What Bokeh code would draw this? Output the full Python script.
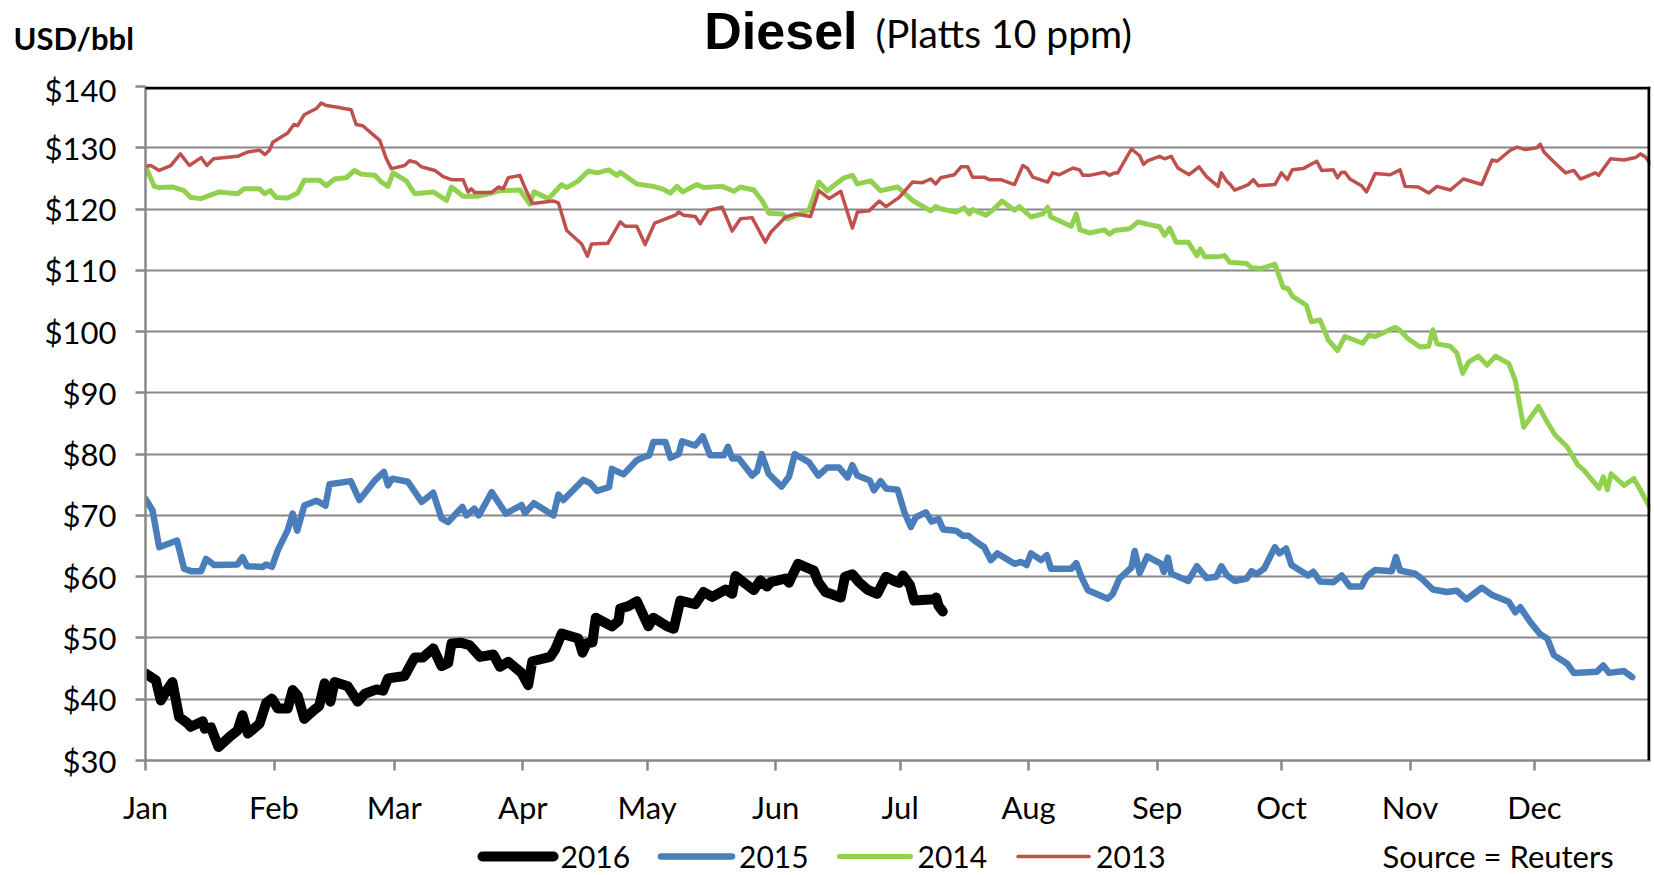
from bokeh.plotting import figure
from bokeh.layouts import column
from bokeh.models import (FixedTicker, NumeralTickFormatter, Label, Span, Range1d)
from bokeh.core.properties import value
from bokeh.embed import file_html
from bokeh.resources import INLINE

# ---------------- data (x = day of year, Jan 1 = 0, leap-year calendar) ----------------
month_days = [0, 31, 60, 91, 121, 152, 182, 213, 244, 274, 305, 335]
month_labels = ["Jan", "Feb", "Mar", "Apr", "May", "Jun", "Jul", "Aug", "Sep", "Oct", "Nov", "Dec"]
y_ticks = [30, 40, 50, 60, 70, 80, 90, 100, 110, 120, 130, 140]

days_2016 = [0, 2.5, 3.7, 4.9, 6.5, 8.1, 10.1, 10.9, 13.8, 14.3, 15.8, 17.6, 20.5, 22.2, 23.4,
             24.7, 27.5, 29.1, 30.5, 31.9, 34.3, 35.5, 36.7, 38.3, 40.6, 41.9, 43.2, 44.6, 45.6,
             48.8, 51.2, 52.9, 55.7, 57.3, 58.5, 62.5, 64.9, 66.9, 69.4, 71.4, 73.0, 73.8, 76.2,
             78.2, 80.7, 83.9, 85.5, 87.5, 90.7, 92.3, 93.3, 97.6, 98.8, 100.4, 104.4, 105.4,
             106.4, 107.8, 108.6, 112.5, 114.1, 114.5, 116.5, 118.5, 121.3, 122.5, 125.8, 127.4,
             129.0, 132.6, 134.6, 136.7, 139.9, 141.5, 142.3, 146.7, 148.3, 149.9, 150.8, 154.4,
             155.2, 156.0, 157.4, 161.2, 162.3, 164.0, 167.7, 168.7, 170.5, 172.1, 174.1, 176.5,
             178.6, 180.6, 181.8, 182.7, 184.4, 185.4, 190.2, 190.7, 191.3, 192.3]
usd_2016 = [44.2, 43.1, 39.8, 41.2, 42.8, 37.1, 36.1, 35.5, 36.4, 35.2, 35.4, 32.2, 34.0, 34.9, 37.4,
            34.4, 36.0, 39.4, 40.1, 38.5, 38.5, 41.5, 40.6, 36.8, 38.2, 38.9, 42.6, 39.6, 42.8,
            42.1, 39.6, 40.9, 41.6, 41.4, 43.4, 43.8, 46.8, 46.8, 48.3, 45.4, 45.9, 49.1, 49.2,
            48.8, 46.9, 47.3, 45.3, 46.1, 44.3, 42.3, 46.2, 46.9, 48.1, 50.7, 49.9, 47.6,
            49.1, 49.3, 53.3, 51.9, 52.8, 54.8, 55.2, 56.0, 51.9, 53.3, 51.9, 51.5,
            56.1, 55.5, 57.5, 56.7, 57.9, 57.2, 60.1, 57.8, 59.4, 58.4, 59.1, 59.7,
            59.0, 60.2, 62.1, 61.0, 59.1, 57.5, 56.6, 60.0, 60.4, 59.1, 57.9, 57.2,
            60.0, 59.3, 59.0, 60.2, 58.6, 56.1, 56.3, 56.6, 55.2, 54.3]

days_2015 = [0, 1.7, 3.3, 7.6, 9.3, 11.0, 13.4, 14.6, 16.6, 22.2, 23.4, 24.5, 28.3, 29.1, 30.5,
             31.9, 34.3, 35.5, 36.6, 38.3, 41.2, 43.4, 44.4, 49.5, 51.6, 55.3, 57.5, 58.5, 59.5,
             63.3, 66.6, 69.4, 71.4, 73.0, 76.4, 77.4, 79.3, 80.4, 83.5, 86.9, 90.7, 91.5, 93.7,
             98.4, 99.6, 100.8, 105.6, 107.2, 108.9, 111.8, 112.5, 113.7, 115.3, 118.5, 120.5,
             121.5, 122.5, 125.4, 126.6, 128.6, 129.4, 132.6, 134.4, 136.2, 139.5, 140.5, 141.5,
             143.1, 146.3, 147.5, 148.6, 150.3, 153.4, 155.2, 156.6, 160.0, 162.3, 164.4, 167.3,
             169.3, 170.5, 171.7, 174.7, 175.7, 177.3, 178.6, 181.4, 183.0, 184.6, 185.8, 188.2,
             189.6, 191.3, 192.4, 195.5, 197.1, 198.5, 199.9, 202.3, 203.9, 205.5, 209.6, 211.2,
             212.5, 213.6, 216.0, 217.4, 218.4, 223.3, 224.5, 225.7, 227.3, 232.1, 233.3, 234.9,
             237.8, 238.6, 239.8, 241.6, 245.0, 245.6, 246.6, 247.4, 251.5, 253.6, 255.9, 258.3,
             259.5, 260.9, 262.7, 265.6, 266.8, 268.0, 269.8, 272.4, 273.5, 275.1, 276.4, 280.4,
             281.7, 283.3, 286.5, 288.5, 290.5, 293.3, 294.5, 296.6, 300.6, 301.6, 302.6, 306.2,
             307.8, 310.5, 313.9, 316.3, 318.6, 322.3, 324.8, 328.8, 330.4, 331.6, 334.0, 336.4,
             338.1, 339.7, 342.9, 344.5, 350.1, 351.6, 353.0, 356.6, 358.6]
usd_2015 = [72.7, 70.8, 64.8, 65.9, 61.3, 60.9, 60.9, 62.9, 61.9, 62.0, 63.2, 61.7, 61.6, 62.0, 61.6,
            64.3, 67.6, 70.3, 67.5, 71.6, 72.4, 71.6, 75.1, 75.6, 72.5, 75.7, 77.1, 74.9, 76.0,
            75.5, 72.2, 73.7, 69.5, 68.9, 71.4, 70.0, 71.1, 70.0, 73.8, 70.3, 71.7, 70.4, 72.0,
            70.0, 73.4, 72.5, 75.8, 75.3, 74.0, 74.6, 77.6, 77.2, 76.7, 79.0, 79.6,
            79.8, 82.0, 82.0, 79.4, 80.0, 82.1, 81.4, 82.9, 79.8, 79.8, 81.2, 79.3,
            79.3, 76.5, 77.2, 80.0, 76.8, 74.7, 76.3, 80.0, 78.7, 76.5, 77.8, 77.8,
            76.2, 78.2, 76.5, 75.7, 74.1, 75.6, 74.4, 74.2, 70.6, 68.1, 69.7, 70.5,
            69.0, 69.4, 67.7, 67.5, 66.7, 66.7, 65.9, 64.8, 62.7, 63.8, 62.1, 62.4,
            61.9, 63.8, 62.7, 63.5, 61.3, 61.3, 62.2, 60.0, 57.8, 56.4, 57.2, 59.7,
            61.5, 64.2, 60.6, 63.3, 62.1, 60.8, 63.1, 60.5, 59.3, 61.7, 59.8, 60.0,
            61.7, 60.2, 59.3, 59.7, 60.9, 60.4, 61.3, 64.8, 63.8, 64.6, 61.9, 60.2,
            60.8, 59.2, 59.1, 60.2, 58.4, 58.4, 60.0, 61.1, 60.9, 63.2, 61.0, 60.5,
            59.7, 57.9, 57.5, 57.7, 56.3, 58.2, 57.0, 55.9, 54.2, 55.0, 52.6, 50.6,
            49.9, 47.2, 45.8, 44.3, 44.5, 45.5, 44.3, 44.6, 43.6]

days_2014 = [0, 2.1, 3.3, 6.5, 9.3, 10.9, 13.4, 15.0, 17.8, 22.2, 23.8, 27.5, 28.7, 30.1, 31.5,
             34.3, 36.7, 38.3, 42.0, 43.6, 45.6, 48.4, 50.4, 52.0, 55.3, 56.9, 58.5, 59.7, 62.9,
             64.9, 69.4, 72.6, 73.8, 76.6, 80.2, 82.7, 85.5, 90.3, 92.7, 93.7, 97.2, 100.4, 101.6,
             104.4, 106.8, 108.9, 111.7, 113.7, 114.5, 118.5, 122.5, 124.6, 126.6, 128.2, 129.6,
             133.0, 134.6, 139.1, 141.9, 143.5, 146.7, 148.7, 150.4, 153.6, 154.8, 160.0, 162.4,
             164.4, 168.5, 170.5, 171.7, 174.9, 177.3, 181.4, 185.0, 189.4, 190.6, 192.0, 195.5,
             197.5, 198.7, 199.5, 202.7, 204.3, 206.6, 209.6, 210.8, 213.6, 216.4, 217.6, 218.4,
             223.3, 224.5, 225.4, 227.7, 231.3, 232.5, 233.7, 237.4, 239.4, 241.8, 244.6, 245.8,
             247.0, 248.6, 251.5, 253.6, 254.4, 255.5, 258.7, 260.3, 261.5, 265.6, 266.8, 269.2,
             272.4, 274.4, 275.6, 276.6, 280.0, 281.2, 283.3, 285.3, 287.5, 289.3, 293.6, 295.0,
             296.6, 301.4, 302.4, 304.6, 307.4, 309.5, 310.5, 311.5, 314.7, 316.3, 317.7, 319.1,
             321.5, 323.6, 325.6, 328.8, 330.4, 332.4, 336.0, 338.1, 340.0, 342.9, 345.5, 346.9,
             350.6, 351.6, 352.6, 353.5, 356.6, 359.0, 360.6, 363.0]
usd_2014 = [127.0, 123.7, 123.5, 123.6, 123.0, 121.9, 121.7, 122.1, 122.8, 122.5, 123.3, 123.3, 122.5, 123.0, 121.9,
            121.8, 122.6, 124.7, 124.7, 123.8, 124.9, 125.1, 126.3, 125.7, 125.5, 124.4, 123.7, 125.9, 124.6,
            122.5, 122.8, 121.4, 123.6, 122.1, 122.1, 122.5, 123.0, 123.1, 120.8, 122.8, 121.7, 124.0, 123.5,
            124.6, 126.2, 125.9, 126.4, 125.5, 126.0, 124.1, 123.7, 123.3, 122.6, 123.7, 122.8,
            124.0, 123.5, 123.7, 122.9, 123.6, 123.1, 121.4, 119.3, 119.2, 118.4, 119.8, 124.4,
            123.0, 125.1, 125.5, 124.1, 124.6, 123.0, 123.6, 121.4, 119.7, 120.4, 120.0, 119.5,
            120.2, 119.2, 119.9, 119.0, 119.8, 121.3, 119.8, 120.4, 118.7, 119.2, 120.3, 118.7,
            117.2, 119.2, 116.6, 116.1, 116.6, 115.9, 116.5, 116.8, 117.9, 117.5, 117.1, 115.7,
            116.9, 114.6, 114.6, 112.4, 113.5, 112.2, 112.2, 112.4, 111.3, 111.1, 110.4, 110.3,
            111.0, 107.2, 107.0, 105.8, 104.3, 101.6, 101.9, 98.6, 96.9, 99.2, 98.1, 99.4,
            99.2, 100.7, 100.3, 98.8, 97.5, 97.6, 100.3, 98.0, 97.6, 96.5, 93.2, 95.0,
            96.0, 94.5, 96.0, 94.8, 92.0, 84.4, 87.8, 85.2, 83.1, 81.2, 78.2, 77.4,
            74.4, 76.3, 74.2, 76.8, 74.9, 76.0, 74.1, 71.1]

days_2013 = [0, 1.3, 3.3, 6.1, 8.4, 10.6, 13.4, 14.8, 16.4, 22.2, 24.6, 27.5, 28.8, 29.9, 30.7,
             34.3, 35.8, 36.7, 38.3, 41.2, 42.4, 43.6, 45.6, 49.6, 50.8, 52.4, 56.5, 58.1, 59.3,
             62.5, 63.7, 65.3, 66.5, 69.8, 71.8, 73.8, 76.6, 77.8, 78.6, 79.4, 83.5, 85.1, 86.3,
             87.5, 90.3, 91.5, 93.3, 98.4, 99.6, 101.6, 105.2, 106.6, 107.6, 111.5, 114.5, 115.7,
             118.5, 120.5, 122.8, 127.8, 128.6, 129.8, 132.6, 133.8, 135.8, 139.1, 141.5, 143.5,
             146.3, 149.5, 150.8, 154.4, 156.8, 160.4, 162.4, 164.9, 167.7, 170.5, 171.7, 174.5,
             177.0, 178.6, 181.8, 185.0, 187.4, 189.4, 190.6, 191.8, 195.1, 196.7, 198.3, 199.5,
             202.3, 203.5, 206.3, 209.6, 211.6, 212.8, 214.0, 217.6, 218.8, 220.4, 223.7, 225.3,
             226.1, 227.7, 231.3, 232.5, 233.7, 234.5, 237.8, 239.8, 240.7, 241.8, 244.6, 245.8,
             247.4, 249.0, 251.7, 254.1, 255.9, 258.7, 259.5, 260.7, 261.5, 262.7, 266.0, 267.2,
             268.4, 272.4, 274.0, 275.4, 276.6, 279.2, 282.5, 283.7, 286.5, 287.5, 288.5, 289.3,
             290.5, 293.3, 294.5, 296.6, 300.2, 302.6, 303.8, 307.0, 309.5, 311.5, 314.7, 317.9,
             322.3, 324.8, 326.0, 329.2, 330.8, 332.8, 335.6, 336.4, 337.3, 338.9, 342.5, 344.5,
             346.1, 349.7, 350.5, 353.4, 356.6, 359.4, 360.6, 361.8, 363.0]
usd_2013 = [127.0, 127.1, 126.3, 127.1, 129.0, 127.1, 128.4, 127.1, 128.2, 128.6, 129.3, 129.6, 128.9, 129.6, 130.9,
            132.4, 133.8, 133.6, 135.4, 136.4, 137.3, 136.9, 136.7, 136.2, 133.8, 133.6, 131.2, 128.2, 126.6,
            127.1, 127.9, 127.6, 126.9, 126.3, 125.3, 124.8, 124.8, 122.8, 123.3, 122.7, 122.7, 123.6, 123.3,
            125.1, 125.5, 123.5, 120.9, 121.3, 121.0, 116.5, 114.3, 112.3, 114.3, 114.4, 117.9, 117.2,
            117.2, 114.2, 117.7, 119.0, 119.5, 119.0, 118.8, 117.6, 119.8, 120.3, 116.4, 118.4,
            118.6, 114.6, 116.2, 118.7, 119.2, 118.8, 123.0, 121.7, 122.9, 116.9, 119.5, 119.7,
            121.3, 120.4, 121.9, 124.4, 124.3, 124.9, 124.1, 125.1, 125.6, 126.9, 126.9, 125.2,
            125.2, 124.8, 124.8, 124.0, 127.1, 126.6, 125.2, 124.4, 125.9, 125.6, 126.7, 126.4,
            125.5, 125.5, 126.0, 125.5, 125.9, 125.9, 129.8, 128.7, 127.3, 127.9, 128.6, 128.2,
            128.6, 126.7, 125.6, 126.9, 125.3, 123.7, 125.9, 124.6, 124.1, 123.1, 124.0, 124.8,
            123.8, 124.0, 125.9, 124.8, 126.4, 126.6, 127.8, 126.3, 126.4, 125.1, 126.0, 126.0,
            124.9, 123.8, 122.8, 125.8, 125.6, 126.4, 123.7, 123.6, 122.6, 123.7, 123.1, 124.9,
            124.0, 128.0, 127.8, 129.6, 130.1, 129.7, 130.0, 130.6, 129.3, 128.2, 125.9, 126.3,
            124.9, 125.9, 125.5, 128.2, 128.0, 128.4, 129.0, 128.5, 127.4]

series_names = ["2016", "2015", "2014", "2013"]
series_colors = ["#000000", "#4a7ebb", "#92d050", "#c0504d"]
series_widths = [10, 6.5, 5, 3.5]

FONT = "Lato"
W = 1654
HEAD_H = 70          # title strip: page y 0..70
FOOT_TOP = 828       # legend strip: page y 828..875
FRAME_L, FRAME_R, FRAME_T, FRAME_B = 145, 1650, 86, 760
X0, X1 = 0, 363
Y0, Y1 = 30, 140


def strip(height, y_top):
    """A blank strip whose data units are page pixels (x from left, y from top)."""
    f = figure(width=W, height=height, output_backend="svg", toolbar_location=None,
               x_range=Range1d(0, W), y_range=Range1d(y_top + height, y_top),
               min_border=0, min_border_left=0, min_border_right=0,
               min_border_top=0, min_border_bottom=0)
    if "frame_align" in f.properties():
        f.frame_align = False
    f.axis.visible = False
    f.grid.visible = False
    f.outline_line_color = None
    f.background_fill_color = "white"
    f.border_fill_color = "white"
    return f


# ---------------- title strip ----------------
head = strip(HEAD_H, 0)
head.add_layout(Label(x=13, y=37.5, text="USD/bbl", text_font=FONT, text_font_size="31px",
                      text_font_style="bold", text_align="left", text_baseline="middle",
                      text_color="black"))
head.add_layout(Label(x=857, y=30.5, text="Diesel", text_font="Liberation Sans",
                      text_font_size="52px", text_font_style="bold", text_align="right",
                      text_baseline="middle", text_color="black"))
head.add_layout(Label(x=875, y=32.5, text="(Platts 10 ppm)", text_font=FONT,
                      text_font_size="39px", text_align="left", text_baseline="middle",
                      text_color="black"))

# ---------------- main chart ----------------
p = figure(width=W, height=FOOT_TOP - HEAD_H, output_backend="svg", toolbar_location=None,
           x_range=Range1d(X0, X1), y_range=Range1d(Y0, Y1),
           min_border_left=FRAME_L, min_border_right=W - FRAME_R,
           min_border_top=FRAME_T - HEAD_H, min_border_bottom=FOOT_TOP - FRAME_B)
p.background_fill_color = "white"
p.border_fill_color = "white"
p.outline_line_color = None

p.xgrid.visible = False
p.ygrid.ticker = FixedTicker(ticks=y_ticks)
p.ygrid.grid_line_color = "#888888"
p.ygrid.grid_line_width = 2

for ax in (p.xaxis[0], p.yaxis[0]):
    ax.axis_line_color = "#888888"
    ax.axis_line_width = 2.5
    ax.major_tick_line_color = "#888888"
    ax.major_tick_line_width = 2.5
    ax.major_tick_in = 0
    ax.major_tick_out = 10
    ax.minor_tick_line_color = None
    ax.major_label_text_font = FONT
    ax.major_label_text_font_size = "31px"
    ax.major_label_text_color = "black"

p.yaxis.ticker = FixedTicker(ticks=y_ticks)
p.yaxis.formatter = NumeralTickFormatter(format="$0")
p.yaxis.major_label_standoff = 19

p.xaxis.ticker = FixedTicker(ticks=month_days)
p.xaxis.major_label_overrides = {d: m for d, m in zip(month_days, month_labels)}
p.xaxis.major_label_standoff = 17

# top and right plot-area border (kept just inside the frame)
px_y = (Y1 - Y0) / (FRAME_B - FRAME_T)
px_x = (X1 - X0) / (FRAME_R - FRAME_L)
p.add_layout(Span(location=Y1 - 1.5 * px_y, dimension="width", line_color="black", line_width=3))
p.add_layout(Span(location=X1 - 1.5 * px_x, dimension="height", line_color="black", line_width=3))

all_days = [days_2016, days_2015, days_2014, days_2013]
all_usd = [usd_2016, usd_2015, usd_2014, usd_2013]
for d, v, c, w in zip(all_days, all_usd, series_colors, series_widths):
    p.line(d, v, line_color=c, line_width=w, line_join="round", line_cap="round")

# ---------------- legend strip (page-pixel units) ----------------
foot = strip(875 - FOOT_TOP, FOOT_TOP)
LEG_X, LEG_PITCH, SWATCH, GAP, LEG_Y = 482, 178.5, 71, 7, 856
for i, (n, c, w) in enumerate(zip(series_names, series_colors, series_widths)):
    x_start = LEG_X + i * LEG_PITCH
    foot.line([x_start, x_start + SWATCH], [LEG_Y, LEG_Y], line_color=c, line_width=w,
              line_cap="round")
    foot.text(x=[x_start + SWATCH + GAP], y=[LEG_Y + 0.5], text=[n], text_font=value(FONT),
              text_font_size="30px", text_align="left", text_baseline="middle",
              text_color="black")
foot.add_layout(Label(x=1382, y=855, text="Source = Reuters", text_font=FONT,
                      text_font_size="31px", text_align="left", text_baseline="middle",
                      text_color="black"))

layout = column(head, p, foot, spacing=0)
open("out.html", "w").write(file_html(layout, INLINE))
